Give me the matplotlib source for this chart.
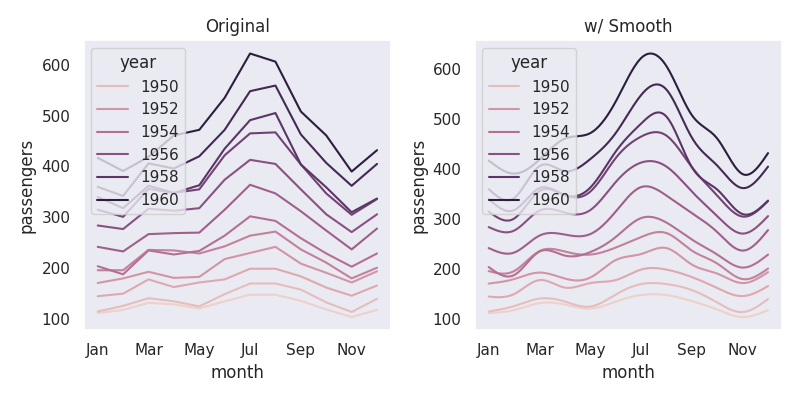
import numpy as np
import pandas as pd
import matplotlib
matplotlib.use("Agg")
import matplotlib.pyplot as plt
import seaborn as sns

months = ['Jan', 'Feb', 'Mar', 'Apr', 'May', 'Jun',
          'Jul', 'Aug', 'Sep', 'Oct', 'Nov', 'Dec']
years = list(range(1949, 1961))

p1949 = [112, 118, 132, 129, 121, 135, 148, 148, 136, 119, 104, 118]
p1950 = [115, 126, 141, 135, 125, 149, 170, 170, 158, 133, 114, 140]
p1951 = [145, 150, 178, 163, 172, 178, 199, 199, 184, 162, 146, 166]
p1952 = [171, 180, 193, 181, 183, 218, 230, 242, 209, 191, 172, 194]
p1953 = [196, 196, 236, 235, 229, 243, 264, 272, 237, 211, 180, 201]
p1954 = [204, 188, 235, 227, 234, 264, 302, 293, 259, 229, 203, 229]
p1955 = [242, 233, 267, 269, 270, 315, 364, 347, 312, 274, 237, 278]
p1956 = [284, 277, 317, 313, 318, 374, 413, 405, 355, 306, 271, 306]
p1957 = [315, 301, 356, 348, 355, 422, 465, 467, 404, 347, 305, 336]
p1958 = [340, 318, 362, 348, 363, 435, 491, 505, 404, 359, 310, 337]
p1959 = [360, 342, 406, 396, 420, 472, 548, 559, 463, 407, 362, 405]
p1960 = [417, 391, 419, 461, 472, 535, 622, 606, 508, 461, 390, 432]

passengers = [p1949, p1950, p1951, p1952, p1953, p1954,
              p1955, p1956, p1957, p1958, p1959, p1960]


def natural_spline(x, y, xs):
    # plain natural cubic spline
    x = np.asarray(x, float)
    y = np.asarray(y, float)
    n = len(x)
    h = np.diff(x)
    A = np.zeros((n, n))
    b = np.zeros(n)
    A[0, 0] = 1
    A[-1, -1] = 1
    for i in range(1, n - 1):
        A[i, i - 1] = h[i - 1]
        A[i, i] = 2 * (h[i - 1] + h[i])
        A[i, i + 1] = h[i]
        b[i] = 3 * ((y[i + 1] - y[i]) / h[i] - (y[i] - y[i - 1]) / h[i - 1])
    c = np.linalg.solve(A, b)
    bb = (y[1:] - y[:-1]) / h - h * (2 * c[:-1] + c[1:]) / 3
    d = (c[1:] - c[:-1]) / (3 * h)
    idx = np.clip(np.searchsorted(x, xs) - 1, 0, n - 2)
    dx = xs - x[idx]
    return y[idx] + bb[idx] * dx + c[idx] * dx ** 2 + d[idx] * dx ** 3


x = np.arange(len(months))
raw = pd.DataFrame({
    'year': np.repeat(years, len(months)),
    'month': np.tile(x, len(years)),
    'passengers': np.concatenate(passengers),
})

xs = np.linspace(0, len(months) - 1, 300)
smooth = pd.DataFrame({
    'year': np.repeat(years, len(xs)),
    'month': np.tile(xs, len(years)),
    'passengers': np.concatenate([natural_spline(x, p, xs) for p in passengers]),
})

sns.set_theme(style="dark")
fig, axes = plt.subplots(1, 2, figsize=(8, 4), dpi=100)

sns.lineplot(data=raw, x='month', y='passengers', hue='year', ax=axes[0])
axes[0].set_title('Original')
sns.lineplot(data=smooth, x='month', y='passengers', hue='year', ax=axes[1])
axes[1].set_title('w/ Smooth')

for ax in axes:
    ax.set_xticks(x[::2])
    ax.set_xticklabels(months[::2])
    ax.set_yticks([100, 200, 300, 400, 500, 600])
    sns.move_legend(ax, 'upper left')

plt.tight_layout()
plt.savefig('out.png')
